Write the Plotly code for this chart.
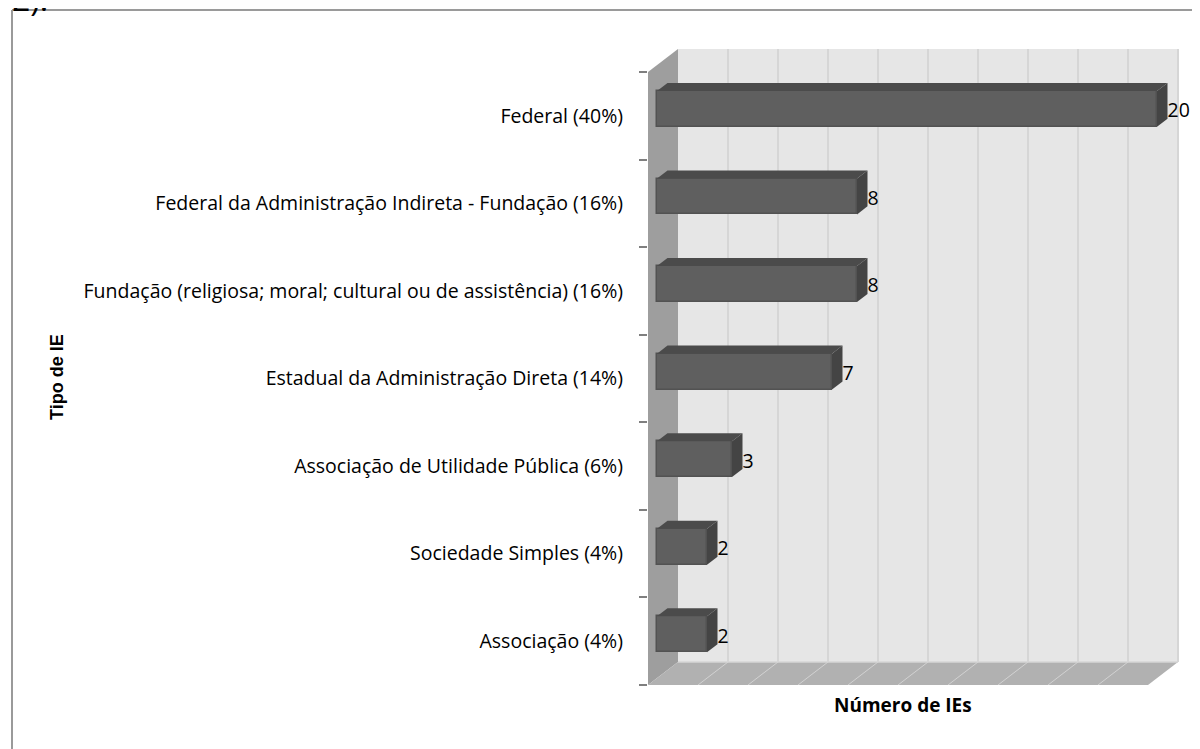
import plotly.graph_objects as go

# ---------------- data ----------------
categories = [
    "Associação (4%)",
    "Sociedade Simples (4%)",
    "Associação de Utilidade Pública (6%)",
    "Estadual da Administração Direta (14%)",
    "Fundação (religiosa; moral; cultural ou de assistência) (16%)",
    "Federal da Administração Indireta - Fundação (16%)",
    "Federal (40%)",
]
values = [2, 2, 3, 7, 8, 8, 20]
grid_values = [2, 4, 6, 8, 10, 12, 14, 16, 18, 20]
x_max = 20
y_title = "Tipo de IE"
x_title = "Número de IEs"
corner_text = "2)."

# ---------------- 3D look parameters ----------------
DX = 1.2      # depth offset (value units)
DY = 0.2626   # depth offset (category units)
D1, D2 = 0.30, 0.65   # bar depth span (fraction of wall depth)
BAR_H = 0.41
n = len(categories)
centers = [i + 0.5 for i in range(n)]

OFF = 8  # page body margin
W, H = 1200 - OFF, 749 - OFF
ML, MR, MT, MB = 648 - OFF, 0, 40 - OFF, 64
PW, PH = W - ML - MR, H - MT - MB
px_x = 25.0
px_y = (685 - 72) / 7.0
x_range = [0, PW / px_x]
y_range = [0, PH / px_y]

def paper_x(page_x):
    return (page_x - OFF - ML) / PW

def paper_y(page_y):
    return (H - MB - (page_y - OFF)) / PH

FONT = "Open Sans"
FS = 19.5

fig = go.Figure()

def poly(xs, ys, fill, axes=("x", "y")):
    fig.add_trace(go.Scatter(
        x=xs + [xs[0]], y=ys + [ys[0]], mode="lines", fill="toself",
        fillcolor=fill, line=dict(color=fill, width=0),
        xaxis=axes[0], yaxis=axes[1],
        hoverinfo="skip", showlegend=False))

def seg(xs, ys, color, width=1):
    fig.add_trace(go.Scatter(x=xs, y=ys, mode="lines",
                             line=dict(color=color, width=width),
                             hoverinfo="skip", showlegend=False))

# back wall
poly([DX, x_max + DX, x_max + DX, DX], [DY, DY, n + DY, n + DY], "#e6e6e6")
for g in grid_values:
    seg([g + DX, g + DX], [DY, n + DY], "#d6d6d6", 2)
# left wall
poly([0, DX, DX, 0], [0, DY, n + DY, n], "#9e9e9e")
# floor
poly([0, x_max, x_max + DX, DX], [0, 0, DY, DY], "#b1b1b1")
for g in grid_values[:-1]:
    seg([g, g + DX], [0, DY], "#d2d2d2", 1)
seg([DX, x_max + DX], [DY, DY], "#d6d6d6", 1.5)

# bars (on overlay axes so they sit above the walls)
fig.add_trace(go.Bar(
    orientation="h", x=values, y=[c + D1 * DY for c in centers],
    base=D1 * DX, width=BAR_H, xaxis="x2", yaxis="y2",
    marker=dict(color="#5f5f5f", line=dict(color="#525252", width=1.5)),
    hoverinfo="skip", showlegend=False))

for c, v in zip(centers, values):
    x0f, x0b = D1 * DX, D2 * DX
    yf_top = c + BAR_H / 2 + D1 * DY
    yf_bot = c - BAR_H / 2 + D1 * DY
    yb_top = c + BAR_H / 2 + D2 * DY
    yb_bot = c - BAR_H / 2 + D2 * DY
    poly([x0f, x0f + v, x0b + v, x0b], [yf_top, yf_top, yb_top, yb_top],
         "#4b4b4b", ("x2", "y2"))
    poly([x0f + v, x0f + v, x0b + v, x0b + v], [yf_top, yf_bot, yb_bot, yb_top],
         "#444444", ("x2", "y2"))

# value labels
fig.add_trace(go.Scatter(
    x=[v + D2 * DX for v in values], y=[c + D1 * DY - 0.04 for c in centers],
    mode="text", text=[str(v) for v in values], textposition="middle right",
    textfont=dict(family=FONT, size=FS, color="#000000"),
    xaxis="x2", yaxis="y2",
    hoverinfo="skip", showlegend=False, cliponaxis=False))

fig.update_layout(
    width=W, height=H,
    margin=dict(l=ML, r=MR, t=MT, b=MB, pad=0),
    paper_bgcolor="white", plot_bgcolor="white",
    showlegend=False, bargap=0,
    font=dict(family=FONT, size=FS, color="#000000"),
    xaxis=dict(range=x_range, showgrid=False, zeroline=False,
               showticklabels=False, ticks="", showline=False, fixedrange=True),
    yaxis=dict(range=y_range, showgrid=False, zeroline=False, showline=False,
               tickmode="array", tickvals=centers, ticktext=categories,
               ticks="", ticklabelstandoff=24,
               tickfont=dict(family=FONT, size=FS, color="#000000"),
               minor=dict(tickmode="array", tickvals=list(range(n + 1)),
                          ticks="outside", ticklen=8, tickcolor="#7f7f7f",
                          tickwidth=1.5, showgrid=False),
               fixedrange=True),
    xaxis2=dict(overlaying="x", range=x_range, visible=False, fixedrange=True),
    yaxis2=dict(overlaying="y", range=y_range, visible=False, fixedrange=True),
    annotations=[
        dict(text="<b>" + y_title + "</b>", textangle=-90, showarrow=False,
             xref="paper", yref="paper", x=paper_x(57), y=paper_y(377),
             xanchor="center", yanchor="middle",
             font=dict(family="Liberation Sans", size=18, color="#000000")),
        dict(text="<b>" + x_title + "</b>", showarrow=False,
             xref="paper", yref="paper", x=paper_x(903), y=paper_y(705),
             xanchor="center", yanchor="middle",
             font=dict(family=FONT, size=19, color="#000000")),
        dict(text=corner_text, showarrow=False, xref="paper", yref="paper",
             x=paper_x(10), y=paper_y(22),
             xanchor="left", yanchor="bottom",
             font=dict(family=FONT, size=32, color="#000000")),
    ],
    shapes=[
        dict(type="line", xref="paper", yref="paper",
             x0=paper_x(12), x1=paper_x(1215), y0=paper_y(10), y1=paper_y(10),
             line=dict(color="#9a9a9a", width=2)),
        dict(type="line", xref="paper", yref="paper",
             x0=paper_x(12), x1=paper_x(12), y0=paper_y(10), y1=paper_y(770),
             line=dict(color="#9a9a9a", width=2)),
    ],
)

fig.write_html("out.html")
